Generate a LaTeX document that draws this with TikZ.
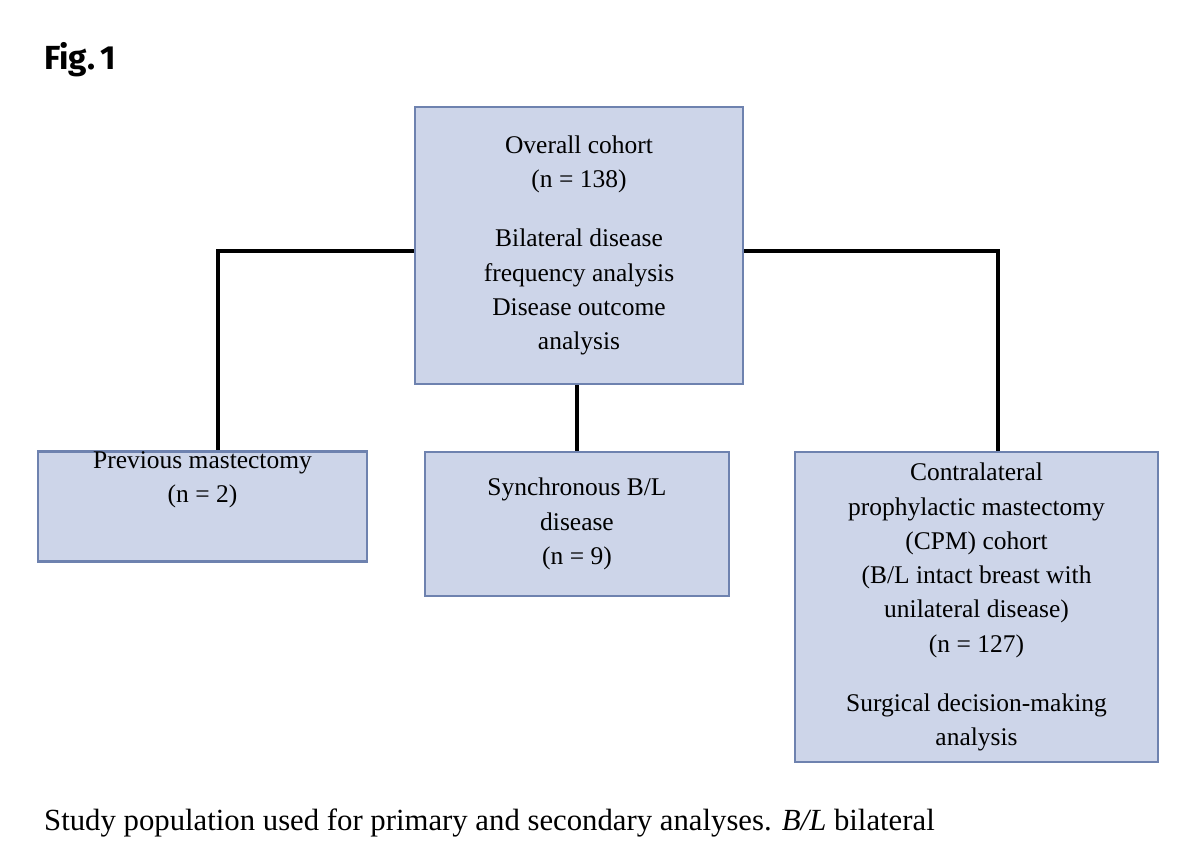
\documentclass[tikz,border=0pt]{standalone}
\usepackage{fontspec}
\setmainfont{Liberation Serif}
\newfontfamily\figfont{Fira Sans}
\definecolor{boxfill}{RGB}{205,213,233}
\definecolor{boxdraw}{RGB}{110,130,175}
\begin{document}
\begin{tikzpicture}[x=0.02cm,y=-0.02cm,
  box/.style={draw=boxdraw,fill=boxfill,line width=1.2pt,inner sep=0pt,
    align=center,font=\fontsize{14.5}{19.5}\selectfont},
  conn/.style={draw=black,line width=2.2pt}]
\useasboundingbox (0,0) rectangle (1200,858);
\node[anchor=west,font=\figfont\bfseries\fontsize{19}{22}\selectfont] (fig) at (38,60) {Fig.\,1};
\node[box,minimum width=328*0.02cm,minimum height=277*0.02cm] (top) at (579,245.5)
 {Overall cohort\\(n = 138)\\[14pt]Bilateral disease\\frequency analysis\\Disease outcome\\analysis};
\node[box,minimum width=329*0.02cm,minimum height=109*0.02cm] (l) at (202.5,506.5)
 {Previous mastectomy\\(n = 2)\\[14pt]};
\node[box,minimum width=304*0.02cm,minimum height=144*0.02cm] (m) at (577,524)
 {Synchronous B/L\\disease\\(n = 9)};
\node[box,minimum width=363*0.02cm,minimum height=310*0.02cm] (r) at (976.5,607)
 {Contralateral\\prophylactic mastectomy\\(CPM) cohort\\(B/L intact breast with\\unilateral disease)\\(n = 127)\\[14pt]Surgical decision-making\\analysis};
\coordinate (lc) at (218,251);
\coordinate (rc) at (998,251);
\draw[conn] (top.west|-lc) -- (lc) -- (lc|-l.north);
\draw[conn] (top.east|-rc) -- (rc) -- (rc|-r.north);
\draw[conn] (top.south-|m.north) -- (m.north);
\node[anchor=west,font=\fontsize{17.5}{20}\selectfont] (cap) at (38,823)
 {Study population used for primary and secondary analyses. \textit{B/L} bilateral};
\end{tikzpicture}
\end{document}
